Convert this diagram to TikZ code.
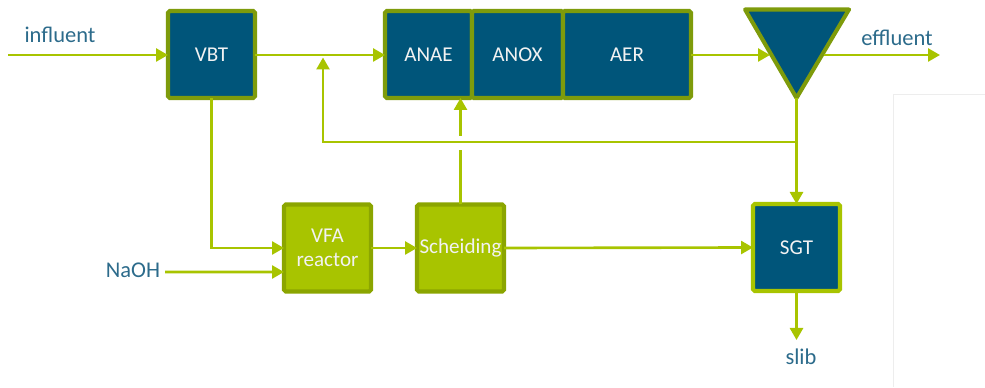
\documentclass[tikz,border=0pt]{standalone}
\usepackage{fontspec}
\setmainfont{Carlito}
\usepackage{tikz}
\usetikzlibrary{arrows.meta,positioning}
\usetikzlibrary{calc}

\definecolor{tankblue}{HTML}{00557A}
\definecolor{tankrim}{HTML}{7E9B0B}
\definecolor{lime}{HTML}{A8C400}
\definecolor{limerim}{HTML}{8BA500}
\definecolor{labelblue}{HTML}{2C6B8B}

\begin{document}
\begin{tikzpicture}[
    tank/.style={rectangle, draw=tankrim, fill=tankblue, line width=2.3pt, rounded corners=1pt,
        minimum size=1.74cm, outer sep=0pt, inner sep=1pt, text=white!95!black,
        font=\fontsize{12}{14}\selectfont, align=center},
    reactor/.style={tank, draw=limerim, fill=lime},
    flow/.style={draw=lime, line width=1.5pt},
    arrow/.style={flow, -{Triangle[length=2.4mm,width=2.6mm]}},
    stream/.style={text=labelblue, font=\fontsize{12.8}{14}\selectfont}
]
\useasboundingbox (0,0) rectangle (19.7,7.74);
% faint panel edge at the right
\draw[black!7, line width=0.5pt] (17.86,0) -- (17.86,5.86) -- (19.7,5.86);

% top line
\node[tank] (vbt) at (4.23,6.65) {VBT};
\node[tank] (anae) at (8.57,6.65) {ANAE};
\node[tank, minimum width=1.82cm, right=0pt of anae] (anox) {ANOX};
\node[tank, minimum width=2.56cm, right=0pt of anox] (aer) {AER};
% settler
\coordinate (setl) at (14.9,7.55);
\coordinate (setr) at (16.98,7.55);
\coordinate (apex) at (15.93,5.78);
\coordinate (setin) at (15.40,6.64);
\coordinate (setout) at (16.48,6.64);
\draw[tankrim, fill=tankblue, line width=2.3pt, line join=round] (setl) -- (setr) -- (apex) -- cycle;

% bottom line
\node[reactor] (vfa) at (6.55,2.78) {VFA\\reactor};
\node[reactor] (sch) at (9.21,2.78) {Scheiding};
\node[tank, draw=lime] (sgt) at (15.93,2.79) {SGT};

% streams
\node[stream] (inf) at (1.2,7.04) {influent};
\node[stream] (eff) at (17.94,6.98) {effluent};
\node[stream] (naoh) at (2.66,2.34) {NaOH};
\node[stream] (slib) at (16.02,0.6) {slib};
\coordinate (infstart) at (0.16,6.64);
\coordinate (effend) at (18.8,6.64);
\coordinate (naohstart) at (3.3,2.30);
\coordinate (slibend) at (15.93,0.94);
\coordinate (ret) at (15.93,4.90);
\coordinate (mix) at (6.46,6.64);

\draw[arrow] (infstart) -- (vbt.west |- infstart);
\draw[arrow] (vbt.east |- infstart) -- (anae.west |- infstart);
\draw[arrow] (aer.east |- infstart) -- (setin);
\draw[arrow] (setout) -- (effend);
\draw[flow] (apex) -- (ret);
\draw[arrow] (ret) -- (sgt.north);
\draw[arrow] (ret) -| ($(mix)+(0,-0.05)$);
\draw[arrow] (vbt.south) |- (vfa.west);
\draw[arrow] (naohstart) -- ($(vfa.west)+(0,-0.48)$);
\draw[arrow] (vfa.east) -- (sch.west);
\draw[arrow] (sch.east) -- (sgt.west);
\draw[flow] (sch.north) -- (9.21,4.74);
\draw[arrow] (9.21,5.02) -- (sch.north |- anae.south);
\draw[arrow] (sgt.south) -- (slibend);
\end{tikzpicture}
\end{document}
